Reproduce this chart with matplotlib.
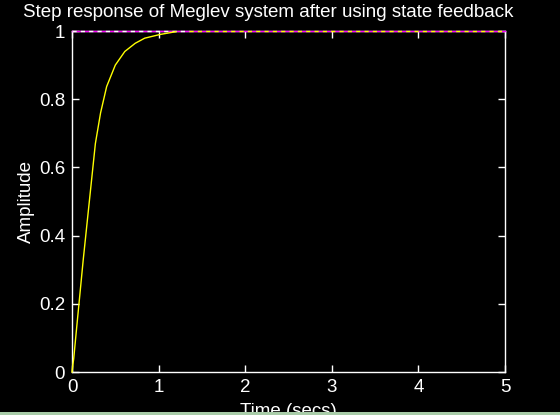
import matplotlib
matplotlib.use('Agg')
import matplotlib.pyplot as plt
from matplotlib.patches import Rectangle

# step response
tiempo = [0, 0.02, 0.05, 0.13, 0.20, 0.27, 0.33, 0.40, 0.50, 0.61, 0.73, 0.84, 1.02, 1.20]
amplitud = [0, 0.04, 0.12, 0.33, 0.50, 0.67, 0.76, 0.837, 0.90, 0.94, 0.964, 0.979, 0.990, 0.998]

valor_final = 1.0
t_cambio = 1.35   # where the dashed line goes from white to yellow
x_ticks = [0, 1, 2, 3, 4, 5]
y_ticks = [0, 0.2, 0.4, 0.6, 0.8, 1]
y_ticklabels = ['0', '0.2', '0.4', '0.6', '0.8', '1']

plt.rcParams['font.family'] = ['Liberation Sans', 'DejaVu Sans']

fig = plt.figure(figsize=(5.6, 4.15), dpi=100)
fig.patch.set_facecolor('black')
ax = fig.add_axes([72 / 560, 1 - 372 / 415, (505 - 72) / 560, (372 - 31) / 415])
ax.set_facecolor('black')

# steady-state line: magenta with white / yellow dashes
ax.axhline(valor_final, color='#ff00ff', lw=1, zorder=3, clip_on=False)
ax.plot([0, t_cambio], [valor_final] * 2, color='white', lw=1, ls=(0, (3, 3)),
        zorder=4, clip_on=False)
ax.plot([t_cambio, 5], [valor_final] * 2, color='yellow', lw=1, ls=(0, (3, 3)),
        zorder=4, clip_on=False)

ax.plot(tiempo, amplitud, color='yellow', lw=1, zorder=5, clip_on=False)

ax.set_xlim(0, 5)
ax.set_ylim(0, 1)
ax.set_xticks(x_ticks)
ax.set_xticklabels([str(v) for v in x_ticks])
ax.set_yticks(y_ticks)
ax.set_yticklabels(y_ticklabels)
ax.tick_params(direction='in', length=5, width=1, colors='white', labelsize=13.5,
               top=True, right=True, pad=5)
for lado in ax.spines.values():
    lado.set_edgecolor('white')
    lado.set_linewidth(1)

ax.set_title('Step response of Meglev system after using state feedback',
             color='white', fontsize=13.5, x=0.454, pad=10)
ax.set_xlabel('Time (secs)', color='white', fontsize=13.5, labelpad=5)
ax.set_ylabel('Amplitude', color='white', fontsize=13.5, labelpad=3)

# light green strip along the bottom edge
fig.add_artist(Rectangle((0, 0), 1, 3 / 415, transform=fig.transFigure,
                         facecolor='#a8cca8', edgecolor='none', zorder=10))

fig.savefig('out.png', dpi=100, facecolor='black')
